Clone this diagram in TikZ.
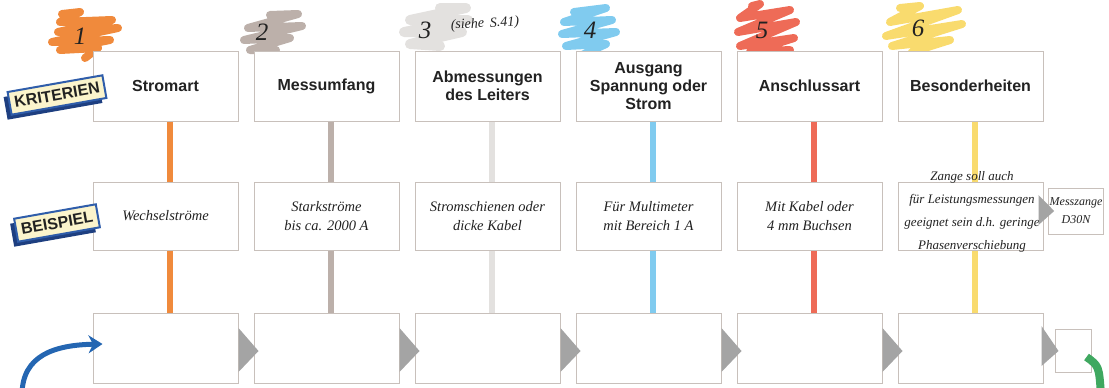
\documentclass[tikz,border=0pt]{standalone}
\usepackage{fontspec}
\setsansfont{Liberation Sans}
\newfontfamily\handf{Liberation Serif}
\usetikzlibrary{calc,arrows.meta}
\definecolor{orangeC}{HTML}{F08A3C}
\definecolor{taupeC}{HTML}{BCB0AA}
\definecolor{lgrayC}{HTML}{E3E1DF}
\definecolor{blueC}{HTML}{80CBEF}
\definecolor{redC}{HTML}{EE6B57}
\definecolor{yellowC}{HTML}{F9DB6E}
\definecolor{boxB}{HTML}{C8C0BB}
\definecolor{triG}{HTML}{A4A4A4}
\definecolor{tagY}{HTML}{FBF4CC}
\definecolor{tagB}{HTML}{2F5DAA}
\definecolor{tagD}{HTML}{1E3F80}
\definecolor{arrB}{HTML}{2466B2}
\definecolor{arrG}{HTML}{3FA860}
\definecolor{inkC}{HTML}{222222}
\tikzset{
  crit/.style={draw=boxB, line width=1pt, fill=white, minimum width=145pt, minimum height=70pt,
    inner sep=2pt, align=center, text=inkC, font=\sffamily\bfseries\fontsize{16}{18}\selectfont},
  exa/.style={draw=boxB, line width=1pt, fill=white, minimum width=145pt, minimum height=68pt,
    inner sep=2pt, align=center, text=inkC, font=\handf\itshape\fontsize{14.5}{19}\selectfont},
  hand/.style={inner sep=0pt, align=center, text=inkC, font=\handf\itshape\fontsize{13}{23}\selectfont},
  res/.style={draw=boxB, line width=1pt, fill=white, minimum width=145pt, minimum height=70pt},
  bar/.style={line width=6pt},
  tri/.style={fill=triG},
  tagbox/.style={fill=tagY, draw=tagB, line width=2pt, inner xsep=5pt, inner ysep=6pt,
    font=\sffamily\bfseries\fontsize{16}{16}\selectfont, text=inkC},
  tagshadow/.style={fill=tagD, inner xsep=5pt, inner ysep=6pt,
    font=\sffamily\bfseries\fontsize{16}{16}\selectfont},
  num/.style={font=\handf\itshape\fontsize{25}{25}\selectfont, text=inkC},
  blot/.style={line width=8pt, line cap=round, line join=round},
}
\begin{document}
\begin{tikzpicture}[x=1pt,y=-1pt]
\useasboundingbox (0,0) rectangle (1109,388);
% colour blots behind the numbers
\draw[blot, orangeC] (62,14) -- (80,12) -- (60,22) -- (112,20) -- (58,32) -- (118,28) -- (52,42) -- (110,40) -- (60,50) -- (98,48) -- (85,58);
\draw[blot, taupeC] (270,15) -- (298,14) -- (248,28) -- (302,26) -- (244,40) -- (290,38) -- (250,50) -- (276,50);
\draw[blot, lgrayC, line width=10pt] (440,8) -- (466,8) -- (410,20) -- (468,20) -- (404,32) -- (462,32) -- (410,44) -- (440,46);
\draw[blot, blueC] (574,12) -- (606,8) -- (564,22) -- (612,20) -- (562,34) -- (616,32) -- (566,46) -- (606,44) -- (580,56);
\draw[blot, redC] (752,6) -- (760,4) -- (740,18) -- (790,10) -- (738,32) -- (796,22) -- (740,46) -- (794,38) -- (750,52) -- (790,50);
\draw[blot, yellowC] (900,8) -- (920,6) -- (890,22) -- (958,10) -- (886,36) -- (962,24) -- (892,46) -- (950,40) -- (912,52);
% numbers
\node[num] (n1) at (80,36) {1};
\node[num] (n2) at (262,32) {2};
\node[num] (n3) at (425,30) {3};
\node[font=\handf\itshape\fontsize{14}{14}\selectfont, text=inkC, rotate=3] (n3s) at (485,24) {(siehe\, S.41)};
\node[num] (n4) at (590,30) {4};
\node[num] (n5) at (762,30) {5};
\node[num] (n6) at (918,28) {6};
% criteria boxes
\node[crit] (t1) at (165.5,86) {Stromart};
\node[crit] (t2) at (326.5,86) {Messumfang};
\node[crit] (t3) at (487.5,86) {Abmessungen\\des Leiters};
\node[crit] (t4) at (648.5,86) {Ausgang\\Spannung oder\\Strom};
\node[crit] (t5) at (809.5,86) {Anschlussart};
\node[crit] (t6) at (970.5,86) {Besonderheiten};
% example boxes
\node[exa] (m1) at (165.5,216) {Wechselströme};
\node[exa] (m2) at (326.5,216) {Starkströme\\bis ca. 2000 A};
\node[exa] (m3) at (487.5,216) {Stromschienen oder\\dicke Kabel};
\node[exa] (m4) at (648.5,216) {Für Multimeter\\mit Bereich 1 A};
\node[exa] (m5) at (809.5,216) {Mit Kabel oder\\4 mm Buchsen};
\node[exa] (m6) at (970.5,216) {};
\node[draw=boxB, line width=1pt, fill=white, minimum width=53pt, minimum height=46pt, inner sep=1pt,
  align=center, text=inkC, font=\handf\itshape\fontsize{12}{18}\selectfont] (m7) at (1076,211) {Messzange\\D30N};
% result boxes
\node[res] (b1) at (165.5,348) {};
\node[res] (b2) at (326.5,348) {};
\node[res] (b3) at (487.5,348) {};
\node[res] (b4) at (648.5,348) {};
\node[res] (b5) at (809.5,348) {};
\node[res] (b6) at (970.5,348) {};
\node[draw=boxB, line width=1pt, fill=white, minimum width=36pt, minimum height=43pt] (b7) at (1073,351) {};
% coloured bars
\foreach \i/\c in {1/orangeC,2/taupeC,3/lgrayC,4/blueC,5/redC,6/yellowC}{
  \draw[bar, \c] ([xshift=4pt]t\i.south) -- ([xshift=4pt]m\i.north);
  \draw[bar, \c] ([xshift=4pt]m\i.south) -- ([xshift=4pt]b\i.north);
}
% handwritten text overflowing box 6
\node[hand] (m6t) at (972,212) {Zange soll auch\\für Leistungsmessungen\\geeignet sein d.h. geringe\\Phasenverschiebung};
% grey arrow triangles
\foreach \i in {1,...,5}{
  \fill[tri] ([yshift=20pt]b\i.east) -- ([xshift=20pt,yshift=-3pt]b\i.east) -- ([yshift=-24pt]b\i.east) -- cycle;
}
\fill[tri] ($(b6.east)+(-2,-22)$) -- ($(b7.west)+(4,0)$) -- ($(b6.east)+(-2,18)$) -- cycle;
\fill[tri] ($(m6.east)+(-5,-21)$) -- ($(m7.west)+(6,0)$) -- ($(m6.east)+(-5,9)$) -- cycle;
% tags
\node[tagshadow, rotate=10] (krs) at (53,100) {\phantom{KRITERIEN}};
\node[tagbox, rotate=10] (kr) at (57,95) {KRITERIEN};
\node[tagshadow, rotate=10] (bes) at (53,228) {\phantom{BEISPIEL}};
\node[tagbox, rotate=10] (be) at (57,223) {BEISPIEL};
% curved arrows
\coordinate (ca) at (22,395);
\draw[line width=5pt, arrB, -{Stealth[length=14pt,width=18pt]}] (ca) .. controls (22,355) and (55,345) .. ([xshift=10pt,yshift=4pt]b1.west);
\coordinate (cd) at (1101,395);
\draw[line width=8pt, arrG] ([xshift=-5pt,yshift=16pt]b7.south east) .. controls (1099,366) .. (cd);
\end{tikzpicture}
\end{document}
